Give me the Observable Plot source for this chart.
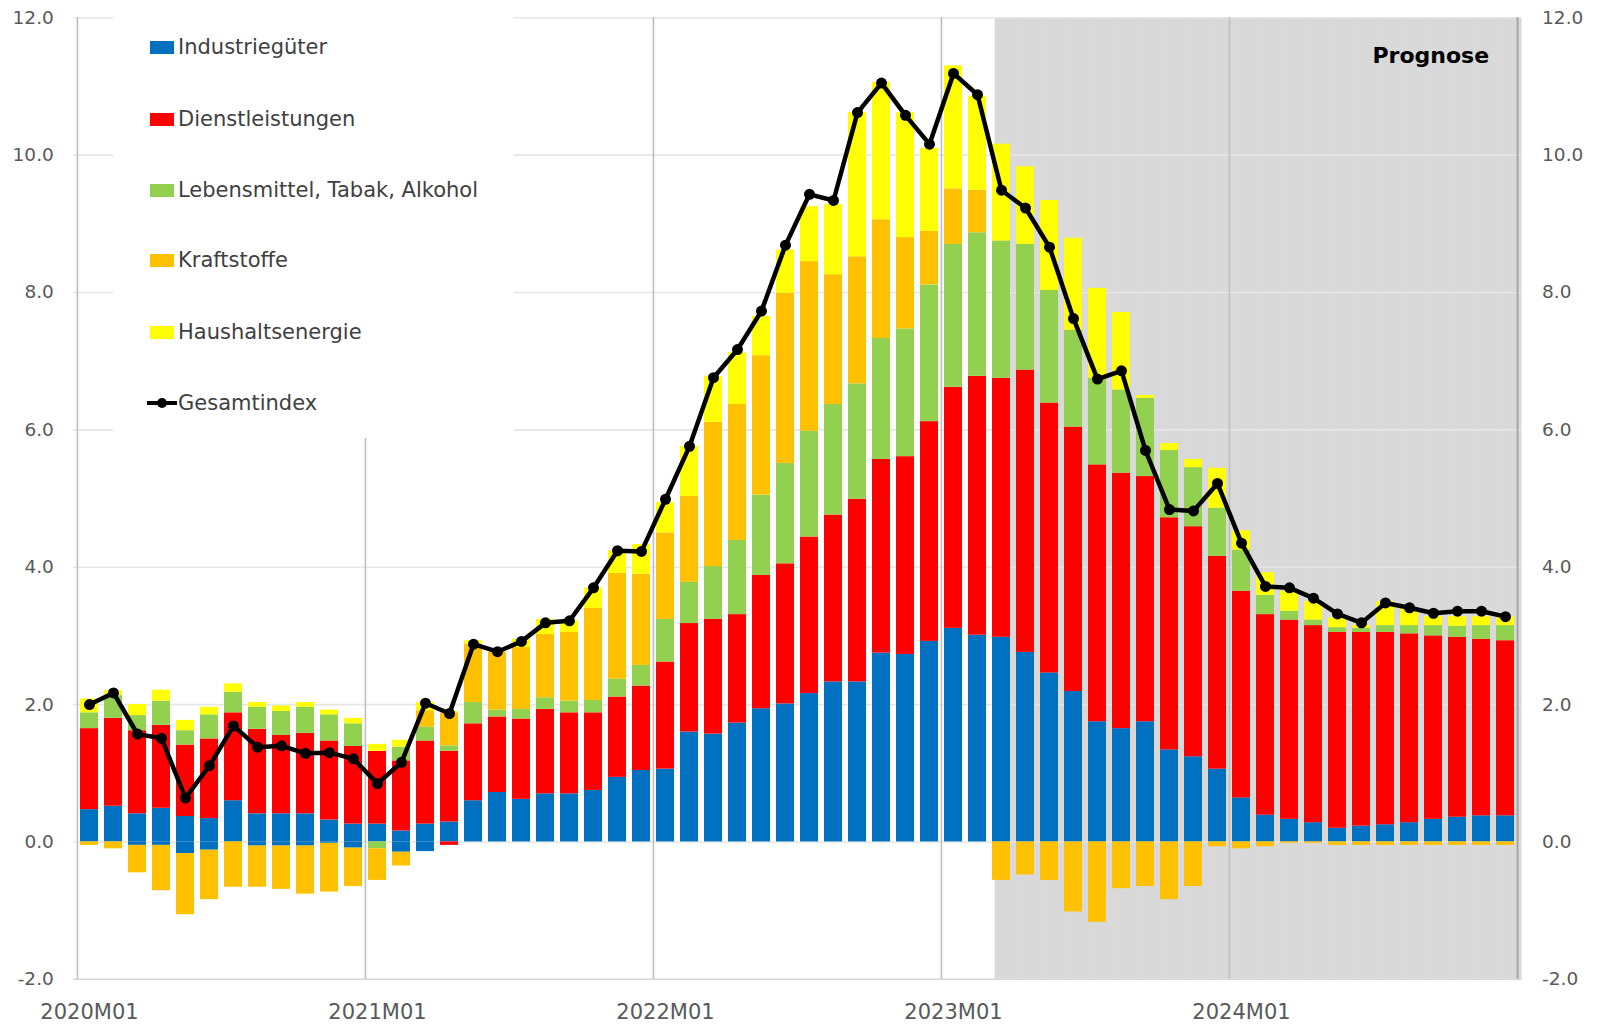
<!DOCTYPE html>
<html>
<head>
<meta charset="utf-8">
<script src="https://cdn.jsdelivr.net/npm/d3@7"></script>
<script src="https://cdn.jsdelivr.net/npm/@observablehq/plot@0.6"></script>
<style>
  body { margin: 0; background: #fff; }
  #wrap { position: relative; width: 1597px; height: 1024px; font-family: "DejaVu Sans", sans-serif; }
  #legend { position: absolute; left: 113px; top: 17px; width: 401px; height: 421px; background: #fff; }
  .item { position: absolute; left: 37px; height: 26px; display: flex; align-items: center;
          font-size: 21px; color: #404040; white-space: nowrap; transform: translateY(-13px); }
  .sw { width: 24px; height: 13px; margin-right: 4px; flex: none; }
  .ln { width: 30px; height: 14px; margin-left: -3px; margin-right: 1px; flex: none; }
</style>
</head>
<body>
<div id="wrap"><div id="chart"></div><div id="legend"></div></div>
<script>
// ---------- data (contributions in percentage points) ----------
const months = [
  "2020M01","2020M02","2020M03","2020M04","2020M05","2020M06","2020M07","2020M08","2020M09","2020M10","2020M11","2020M12",
  "2021M01","2021M02","2021M03","2021M04","2021M05","2021M06","2021M07","2021M08","2021M09","2021M10","2021M11","2021M12",
  "2022M01","2022M02","2022M03","2022M04","2022M05","2022M06","2022M07","2022M08","2022M09","2022M10","2022M11","2022M12",
  "2023M01","2023M02","2023M03","2023M04","2023M05","2023M06","2023M07","2023M08","2023M09","2023M10","2023M11","2023M12",
  "2024M01","2024M02","2024M03","2024M04","2024M05","2024M06","2024M07","2024M08","2024M09","2024M10","2024M11","2024M12"
];
const industrie = [
  0.47,0.52,0.41,0.49,0.37,0.34,0.60,0.41,0.41,0.41,0.32,0.26,
  0.26,0.16,0.26,0.29,0.60,0.72,0.62,0.70,0.70,0.75,0.94,1.04,
  1.06,1.60,1.57,1.73,1.94,2.01,2.16,2.33,2.33,2.75,2.73,2.92,
  3.11,3.01,2.98,2.76,2.46,2.19,1.75,1.65,1.75,1.34,1.24,1.06,
  0.64,0.39,0.33,0.28,0.20,0.23,0.25,0.28,0.33,0.36,0.38,0.38
];
const industrieNeg = [
  0,0,-0.05,-0.05,-0.17,-0.12,0,-0.06,-0.06,-0.06,-0.02,-0.09,
  0,-0.15,-0.14,0,0,0,0,0,0,0,0,0,
  0,0,0,0,0,0,0,0,0,0,0,0,
  0,0,0,0,0,0,0,0,0,0,0,0,
  0,0,0,0,0,0,0,0,0,0,0,0
];
const dienst = [
  1.18,1.28,1.21,1.21,1.04,1.16,1.28,1.23,1.14,1.17,1.15,1.13,
  1.06,1.02,1.21,1.03,1.12,1.10,1.17,1.23,1.18,1.13,1.17,1.23,
  1.56,1.58,1.67,1.58,1.94,2.04,2.28,2.43,2.66,2.82,2.88,3.20,
  3.51,3.77,3.77,4.11,3.93,3.85,3.74,3.72,3.57,3.38,3.35,3.10,
  3.01,2.92,2.90,2.87,2.85,2.82,2.80,2.75,2.67,2.62,2.57,2.55
];
const dienstNeg = [
  0,0,0,0,0,0,0,0,0,0,0,0,
  0,0,0,-0.05,0,0,0,0,0,0,0,0,
  0,0,0,0,0,0,0,0,0,0,0,0,
  0,0,0,0,0,0,0,0,0,0,0,0,
  0,0,0,0,0,0,0,0,0,0,0,0
];
const lebensmittel = [
  0.23,0.33,0.22,0.35,0.21,0.35,0.30,0.32,0.35,0.38,0.38,0.33,
  -0.10,0.20,0.20,0.08,0.31,0.10,0.14,0.17,0.17,0.18,0.26,0.30,
  0.62,0.60,0.77,1.08,1.17,1.46,1.54,1.61,1.68,1.76,1.86,1.99,
  2.08,2.09,2.00,1.83,1.64,1.41,1.26,1.21,1.14,0.98,0.86,0.70,
  0.60,0.28,0.13,0.08,0.07,0.06,0.10,0.12,0.15,0.16,0.20,0.22
];
const kraftstoffe = [
  -0.05,-0.10,-0.40,-0.66,-0.89,-0.72,-0.66,-0.60,-0.63,-0.70,-0.71,-0.56,
  -0.46,-0.20,0.24,0.48,0.85,0.84,0.90,0.92,1.00,1.34,1.54,1.33,
  1.26,1.25,2.10,1.98,2.03,2.48,2.47,1.89,1.85,1.73,1.33,0.78,
  0.81,0.62,-0.56,-0.48,-0.56,-1.02,-1.17,-0.68,-0.65,-0.84,-0.65,-0.07,
  -0.10,-0.07,-0.02,-0.02,-0.05,-0.05,-0.05,-0.05,-0.05,-0.05,-0.05,-0.05
];
const haushalt = [
  0.20,0.07,0.16,0.16,0.15,0.11,0.12,0.07,0.08,0.07,0.07,0.08,
  0.10,0.10,0.12,0.02,0.05,0.05,0.12,0.22,0.17,0.30,0.33,0.43,
  0.44,0.73,0.67,0.75,0.57,0.63,0.80,1.02,2.10,2.00,1.82,1.21,
  1.79,1.37,1.41,1.13,1.31,1.34,1.31,1.13,0.04,0.10,0.12,0.58,
  0.28,0.33,0.29,0.27,0.14,0.04,0.35,0.25,0.13,0.14,0.13,0.13
];
const gesamt = [
  2.00,2.17,1.57,1.51,0.64,1.11,1.69,1.38,1.40,1.29,1.30,1.21,
  0.85,1.16,2.02,1.87,2.88,2.77,2.92,3.19,3.22,3.70,4.24,4.23,
  4.99,5.76,6.76,7.17,7.73,8.69,9.43,9.34,10.62,11.05,10.58,10.16,
  11.19,10.88,9.49,9.23,8.66,7.62,6.74,6.86,5.70,4.84,4.82,5.22,
  4.35,3.72,3.70,3.55,3.32,3.19,3.48,3.41,3.33,3.36,3.36,3.28
];
const forecastStart = "2023M03";
const xTickLabels = ["2020M01","2021M01","2022M01","2023M01","2024M01"];
const yearStarts = ["2020M01","2021M01","2022M01","2023M01","2024M01"];
const yTicks = [-2, 0, 2, 4, 6, 8, 10, 12];
const gridValues = [2, 4, 6, 8, 10, 12];

const series = [
  {key: "Industriegüter",        values: industrie,     color: "#0070C0", legend: true},
  {key: "Industriegüter_neg",    values: industrieNeg,  color: "#0070C0", legend: false},
  {key: "Dienstleistungen",      values: dienst,        color: "#FF0000", legend: true},
  {key: "Dienstleistungen_neg",  values: dienstNeg,     color: "#FF0000", legend: false},
  {key: "Lebensmittel, Tabak, Alkohol", values: lebensmittel, color: "#92D050", legend: true},
  {key: "Kraftstoffe",           values: kraftstoffe,   color: "#FFC000", legend: true},
  {key: "Haushaltsenergie",      values: haushalt,      color: "#FFFF00", legend: true}
];

// ---------- build tables ----------
const rows = [];
for (const s of series) months.forEach((m, i) => rows.push({month: m, key: s.key, value: s.values[i]}));
const lineRows = months.map((m, i) => ({month: m, value: gesamt[i]}));
const forecastMonths = months.slice(months.indexOf(forecastStart));

// ---------- layout ----------
const W = 1597, H = 1024;
const mL = 73.3, mR = 75.4, mT = 17.3, mB = 45.2;
const pad = 0.24;
const step = (W - mL - mR) / months.length;
const e = step * pad / 2;           // gap between band edge and bar edge
const shadeShift = 5.5;             // shaded forecast area starts slightly inside the band

const chart = Plot.plot({
  width: W, height: H,
  marginLeft: mL, marginRight: mR, marginTop: mT, marginBottom: mB,
  style: {fontFamily: "DejaVu Sans, sans-serif", background: "white", color: "#595959"},
  x: {type: "band", domain: months, paddingInner: pad, paddingOuter: pad / 2, axis: null, label: null},
  y: {domain: [-2, 12], axis: null, label: null},
  color: {domain: series.map(s => s.key), range: series.map(s => s.color)},
  marks: [
    // forecast shading
    Plot.barY(forecastMonths, {x: d => d, y1: -2, y2: 12, fill: "#d9d9d9",
      insetLeft: shadeShift - e, insetRight: -e - shadeShift - 0.5, clip: true}),
    // horizontal gridlines
    Plot.ruleY(gridValues, {stroke: "#e6e6e6", strokeWidth: 1.6}),
    Plot.ruleY([0], {stroke: "#e6e6e6", strokeWidth: 1.6}),
    Plot.ruleY([-2], {stroke: "#d6d6d6", strokeWidth: 1.6}),
    // vertical year lines
    Plot.ruleX(yearStarts, {x: d => d, dx: -step / 2, y1: -2, y2: 12, stroke: "#bfbfbf", strokeWidth: 1.6}),
    Plot.ruleX([months[months.length - 1]], {x: d => d, dx: step / 2, y1: -2, y2: 12, stroke: "#a6a6a6", strokeWidth: 2}),
    // stacked contributions
    Plot.barY(rows, Plot.stackY({x: "month", y: "value", z: "key", fill: "key"})),
    // total index
    Plot.line(lineRows, {x: "month", y: "value", stroke: "black", strokeWidth: 4.5, strokeLinejoin: "round"}),
    Plot.dot(lineRows, {x: "month", y: "value", r: 5.5, fill: "black"}),
    // axes
    Plot.axisY(yTicks, {anchor: "left", label: null, tickSize: 0, tickPadding: 20, fontSize: 18.5, fill: "#595959",
      tickFormat: d => d.toFixed(1)}),
    Plot.axisY(yTicks, {anchor: "right", label: null, tickSize: 0, tickPadding: 20, fontSize: 18.5, fill: "#595959",
      tickFormat: d => d.toFixed(1)}),
    Plot.axisX(xTickLabels, {anchor: "bottom", label: null, tickSize: 0, tickPadding: 25, fontSize: 21, fill: "#595959"}),
    // forecast label
    Plot.text(["Prognose"], {frameAnchor: "top-right", dx: -33, dy: 38, text: d => d,
      fontSize: 22, fontWeight: "bold", fill: "black", textAnchor: "end", lineAnchor: "middle"})
  ]
});
document.getElementById("chart").appendChild(chart);

// ---------- legend (inside plot area, white box) ----------
const legend = document.getElementById("legend");
const legendTops = [30, 102, 173, 243, 315, 386];
const legendItems = series.filter(s => s.legend);
legendItems.forEach((s, i) => {
  const div = document.createElement("div");
  div.className = "item";
  div.style.top = legendTops[i] + "px";
  div.innerHTML = `<span class="sw" style="background:${s.color}"></span><span>${s.key}</span>`;
  legend.appendChild(div);
});
const g = document.createElement("div");
g.className = "item";
g.style.top = legendTops[5] + "px";
g.innerHTML = `<svg class="ln" viewBox="0 0 30 14"><line x1="0" y1="7" x2="30" y2="7" stroke="black" stroke-width="4"/><circle cx="15" cy="7" r="5" fill="black"/></svg><span>Gesamtindex</span>`;
legend.appendChild(g);
</script>
</body>
</html>
